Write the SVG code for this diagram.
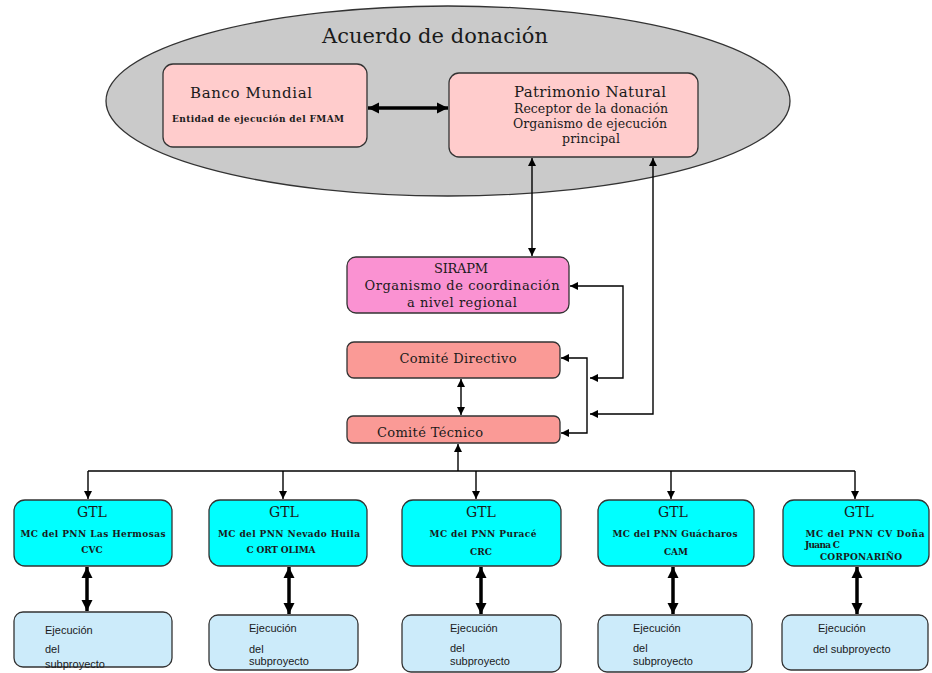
<svg xmlns="http://www.w3.org/2000/svg" width="932" height="673" viewBox="0 0 932 673">
<style>
.serif{font-family:"DejaVu Serif","Liberation Serif",serif;fill:#1a1a1a}
.small{font-family:"DejaVu Serif","Liberation Serif",serif;font-weight:bold;fill:#1a1a1a;font-size:9px}
.sans{font-family:"Liberation Sans",Arial,sans-serif;fill:#1a1a1a;font-size:11px}
.box{stroke:#333;stroke-width:1.3}
.pink{fill:#FFCCCC}
.gtl{fill:#00FFFF}
.ej{fill:#CCEBFA}
.com{fill:#FA9A96}
.sir{fill:#FA92D2}
.ln{stroke:#000;stroke-width:1.4;fill:none}
.thick{stroke:#000;stroke-width:3.5;fill:none}
</style>
<defs>
<marker id="a" viewBox="0 0 10 10" refX="10" refY="5" markerUnits="userSpaceOnUse" markerWidth="9" markerHeight="8" orient="auto-start-reverse"><path d="M0,0 L10,5 L0,10 z" fill="#000"/></marker>
<marker id="b" viewBox="0 0 10 10" refX="10" refY="5" markerUnits="userSpaceOnUse" markerWidth="11" markerHeight="12" orient="auto-start-reverse"><path d="M0,0 L10,5 L0,10 z" fill="#000"/></marker>
</defs>
<rect width="932" height="673" fill="#fff"/>
<g id="acuerdo">
<ellipse cx="448" cy="101" rx="342" ry="95" fill="#CACACA" stroke="#333" stroke-width="1.3"/>
<text class="serif" x="435" y="43" font-size="21" text-anchor="middle" textLength="226" lengthAdjust="spacing">Acuerdo de donación</text>
</g>
<g id="banco">
<rect class="box pink" x="163" y="64" width="204" height="83" rx="10"/>
<text class="serif" x="251" y="98" font-size="15" text-anchor="middle" textLength="122" lengthAdjust="spacing">Banco Mundial</text>
<text class="small" x="258" y="122" text-anchor="middle" textLength="172" lengthAdjust="spacing">Entidad de ejecución del FMAM</text>
</g>
<g id="patrimonio">
<rect class="box pink" x="449" y="73" width="249" height="84" rx="10"/>
<text class="serif" x="590" y="97" font-size="15" text-anchor="middle" textLength="152" lengthAdjust="spacing">Patrimonio Natural</text>
<text class="serif" x="591" y="113" font-size="12.5" text-anchor="middle" textLength="154" lengthAdjust="spacing">Receptor de la donación</text>
<text class="serif" x="590" y="128" font-size="12.5" text-anchor="middle" textLength="154" lengthAdjust="spacing">Organismo de ejecución</text>
<text class="serif" x="591" y="143" font-size="12.5" text-anchor="middle" textLength="58" lengthAdjust="spacing">principal</text>
</g>
<g id="sirapm">
<rect class="box sir" x="347" y="257" width="222" height="56" rx="9"/>
<text class="serif" x="461" y="273" font-size="13" text-anchor="middle" textLength="54" lengthAdjust="spacing">SIRAPM</text>
<text class="serif" x="462" y="290" font-size="13" text-anchor="middle" textLength="195" lengthAdjust="spacing">Organismo de coordinación</text>
<text class="serif" x="462" y="307" font-size="13" text-anchor="middle" textLength="110" lengthAdjust="spacing">a nivel regional</text>
</g>
<g id="directivo">
<rect class="box com" x="347" y="342" width="213" height="36" rx="7"/>
<text class="serif" x="458" y="363" font-size="13" text-anchor="middle" textLength="117" lengthAdjust="spacing">Comité Directivo</text>
</g>
<g id="tecnico">
<rect class="box com" x="347" y="416" width="213" height="27" rx="6"/>
<text class="serif" x="430" y="437" font-size="13" text-anchor="middle" textLength="106" lengthAdjust="spacing">Comité Técnico</text>
</g>
<g id="gtl1">
<rect class="box gtl" x="14" y="500" width="158" height="66" rx="11"/>
<text class="serif" x="92" y="517" font-size="14" text-anchor="middle">GTL</text>
<text class="small" x="93" y="537" text-anchor="middle" textLength="145" lengthAdjust="spacing">MC del PNN Las  Hermosas</text>
<text class="small" x="92" y="553" text-anchor="middle">CVC</text>
</g>
<g id="gtl2">
<rect class="box gtl" x="209" y="500" width="158" height="66" rx="11"/>
<text class="serif" x="284" y="517" font-size="14" text-anchor="middle">GTL</text>
<text class="small" x="289" y="537" text-anchor="middle" textLength="142" lengthAdjust="spacing">MC del PNN Nevado Huila</text>
<text class="small" x="281" y="553" text-anchor="middle" textLength="69" lengthAdjust="spacing">C ORT OLIMA</text>
</g>
<g id="gtl3">
<rect class="box gtl" x="402" y="500" width="159" height="66" rx="11"/>
<text class="serif" x="481" y="517" font-size="14" text-anchor="middle">GTL</text>
<text class="small" x="483" y="537" text-anchor="middle" textLength="107" lengthAdjust="spacing">MC del PNN Puracé</text>
<text class="small" x="481" y="555" text-anchor="middle">CRC</text>
</g>
<g id="gtl4">
<rect class="box gtl" x="598" y="500" width="156" height="66" rx="11"/>
<text class="serif" x="673" y="517" font-size="14" text-anchor="middle">GTL</text>
<text class="small" x="675" y="537" text-anchor="middle" textLength="125" lengthAdjust="spacing">MC del PNN Guácharos</text>
<text class="small" x="676" y="555" text-anchor="middle">CAM</text>
</g>
<g id="gtl5">
<rect class="box gtl" x="783" y="500" width="146" height="66" rx="11"/>
<text class="serif" x="859" y="517" font-size="14" text-anchor="middle">GTL</text>
<text class="small" x="865" y="537" text-anchor="middle" textLength="119" lengthAdjust="spacing">MC del PNN CV Doña</text>
<text class="small" x="805" y="548" font-size="8.5" textLength="35" lengthAdjust="spacing">Juana C</text>
<text class="small" x="820" y="560" font-size="8.5" textLength="82" lengthAdjust="spacing">CORPONARIÑO</text>
</g>
<g id="ej1">
<rect class="box ej" x="14" y="612" width="158" height="55" rx="9"/>
<text class="sans" x="45" y="634">Ejecución</text>
<text class="sans" x="45" y="653">del</text>
<text class="sans" x="45" y="668">subproyecto</text>
</g>
<g id="ej2">
<rect class="box ej" x="209" y="615" width="149" height="55" rx="9"/>
<text class="sans" x="249" y="632">Ejecución</text>
<text class="sans" x="249" y="653">del</text>
<text class="sans" x="249" y="665">subproyecto</text>
</g>
<g id="ej3">
<rect class="box ej" x="402" y="615" width="159" height="57" rx="9"/>
<text class="sans" x="450" y="632">Ejecución</text>
<text class="sans" x="450" y="652">del</text>
<text class="sans" x="450" y="665">subproyecto</text>
</g>
<g id="ej4">
<rect class="box ej" x="598" y="615" width="154" height="57" rx="9"/>
<text class="sans" x="633" y="632">Ejecución</text>
<text class="sans" x="633" y="652">del</text>
<text class="sans" x="633" y="665">subproyecto</text>
</g>
<g id="ej5">
<rect class="box ej" x="782" y="615" width="146" height="55" rx="9"/>
<text class="sans" x="818" y="632">Ejecución</text>
<text class="sans" x="813" y="653">del subproyecto</text>
</g>
<g id="connectors">
<line class="thick" x1="368" y1="108" x2="448" y2="108" marker-start="url(#b)" marker-end="url(#b)"/>
<line class="ln" x1="532" y1="158" x2="532" y2="256" marker-start="url(#a)" marker-end="url(#a)"/>
<polyline class="ln" points="653,158 653,414 590,414" marker-start="url(#a)" marker-end="url(#a)"/>
<polyline class="ln" points="570,286 623,286 623,378 590,378" marker-start="url(#a)" marker-end="url(#a)"/>
<polyline class="ln" points="561,358 587,358 587,433 561,433" marker-start="url(#a)" marker-end="url(#a)"/>
<line class="ln" x1="461" y1="379" x2="461" y2="415" marker-start="url(#a)" marker-end="url(#a)"/>
<line class="ln" x1="458" y1="471" x2="458" y2="444" marker-end="url(#a)"/>
<line class="ln" x1="88" y1="471" x2="855" y2="471"/>
<line class="ln" x1="88" y1="471" x2="88" y2="499" marker-end="url(#a)"/>
<line class="ln" x1="283" y1="471" x2="283" y2="499" marker-end="url(#a)"/>
<line class="ln" x1="476" y1="471" x2="476" y2="499" marker-end="url(#a)"/>
<line class="ln" x1="671" y1="471" x2="671" y2="499" marker-end="url(#a)"/>
<line class="ln" x1="855" y1="471" x2="855" y2="499" marker-end="url(#a)"/>
<line class="thick" x1="87" y1="567" x2="87" y2="611" marker-start="url(#b)" marker-end="url(#b)"/>
<line class="thick" x1="289" y1="567" x2="289" y2="614" marker-start="url(#b)" marker-end="url(#b)"/>
<line class="thick" x1="481" y1="567" x2="481" y2="614" marker-start="url(#b)" marker-end="url(#b)"/>
<line class="thick" x1="673" y1="567" x2="673" y2="614" marker-start="url(#b)" marker-end="url(#b)"/>
<line class="thick" x1="857" y1="567" x2="857" y2="614" marker-start="url(#b)" marker-end="url(#b)"/>
</g>
</svg>
